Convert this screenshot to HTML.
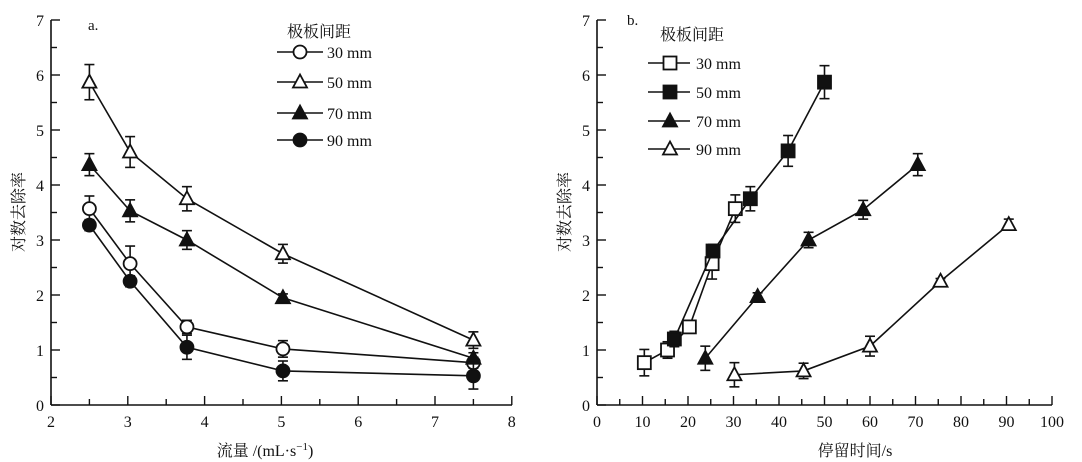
<!DOCTYPE html>
<html><head><meta charset="utf-8"><style>
html,body{margin:0;padding:0;background:#fff;}
svg{display:block;}
text{font-family:"Liberation Serif","Noto Serif CJK SC","Noto Sans CJK SC",serif;fill:#111;}
</style></head><body>
<svg id="s" width="1082" height="462" xmlns="http://www.w3.org/2000/svg">
<text x="88" y="30" font-size="15">a.</text>
<text x="627" y="25" font-size="15">b.</text>
<text x="287" y="37" font-size="16">极板间距</text>
<text x="660" y="40" font-size="16">极板间距</text>
<text x="265" y="456" font-size="16" text-anchor="middle">流量 /(mL·s<tspan dy="-6" font-size="11">−1</tspan><tspan dy="6">)</tspan></text>
<text x="855" y="456" font-size="16" text-anchor="middle">停留时间/s</text>
<text transform="translate(24,212) rotate(-90)" font-size="16" text-anchor="middle">对数去除率</text>
<text transform="translate(570,212) rotate(-90)" font-size="16" text-anchor="middle">对数去除率</text>
</svg>
<script>
var s=document.getElementById('s'),NS='http://www.w3.org/2000/svg';
function el(t,a,txt){var e=document.createElementNS(NS,t);for(var k in a)e.setAttribute(k,a[k]);if(txt!=null)e.textContent=txt;s.appendChild(e);return e;}
function Y(v){return 405-55*v;}
function marker(type,x,y){
 var f=(type=='oc'||type=='os'||type=='ot')?'#fff':'#111';
 if(type[1]=='c')el('circle',{cx:x,cy:y,r:6.5,fill:f,stroke:'#111','stroke-width':1.8});
 else if(type[1]=='s')el('rect',{x:x-6.5,y:y-6.5,width:13,height:13,fill:f,stroke:'#111','stroke-width':1.8});
 else el('polygon',{points:(x)+','+(y-7.5)+' '+(x-7)+','+(y+5.5)+' '+(x+7)+','+(y+5.5),fill:f,stroke:'#111','stroke-width':1.8});
}
function axes(x0,x1,ticks,minor,labels,lx){
 el('line',{x1:x0,y1:20,x2:x0,y2:405,stroke:'#111','stroke-width':1.6});
 el('line',{x1:x0,y1:405,x2:x1,y2:405,stroke:'#111','stroke-width':1.6});
 for(var v=0;v<=7;v+=0.5){var y=Y(v);el('line',{x1:x0,y1:y,x2:x0+(v%1?6:9),y2:y,stroke:'#111','stroke-width':1.4});
  if(v%1==0)el('text',{x:x0-7,y:y+6,'font-size':16,'text-anchor':'end'},String(v));}
 ticks.forEach(function(t,i){el('line',{x1:t[0],y1:405,x2:t[0],y2:405-(t[1]?9:6),stroke:'#111','stroke-width':1.4});
  if(t[1])el('text',{x:t[0],y:427,'font-size':16,'text-anchor':'middle'},t[2]);});
}
// left
var lt=[];for(var v=2;v<=8;v+=0.5){lt.push([51+(v-2)*76.8,v%1==0,String(v)]);}
axes(51,512,lt);
var LX=function(v){return 51+(v-2)*76.8;};
var xs=[2.5,3.03,3.77,5.02,7.5];
var L=[['oc',[3.57,2.57,1.42,1.02,0.77],[.23,.32,.12,.15,.1]],
['ot',[5.87,4.6,3.75,2.75,1.18],[.32,.28,.22,.17,.15]],
['ft',[4.37,3.53,3.0,1.95,0.85],[.2,.2,.17,.07,.1]],
['fc',[3.27,2.25,1.05,0.62,0.53],[.1,.1,.22,.18,.24]]];
function series(sx,sy,type,err){
 var p=sx.map(function(x,i){return x+','+Y(sy[i]);}).join(' ');
 el('polyline',{points:p,fill:'none',stroke:'#111','stroke-width':1.6});
 sx.forEach(function(x,i){var e=err[i],y1=Y(sy[i]+e),y2=Y(sy[i]-e);
  el('line',{x1:x,y1:y1,x2:x,y2:y2,stroke:'#111','stroke-width':1.6});
  el('line',{x1:x-5,y1:y1,x2:x+5,y2:y1,stroke:'#111','stroke-width':1.6});
  el('line',{x1:x-5,y1:y2,x2:x+5,y2:y2,stroke:'#111','stroke-width':1.6});
  marker(type,x,Y(sy[i]));});
}
L.forEach(function(d){series(xs.map(LX),d[1],d[0],d[2]);});
// right
var rt=[];for(var v=0;v<=100;v+=5){rt.push([597+v*4.55,v%10==0,String(v)]);}
axes(597,1052,rt);
var RX=function(v){return 597+v*4.55;};
var R=[['os',[10.4,15.5,20.3,25.3,30.4],[0.77,1.0,1.42,2.57,3.57],[.24,.15,.1,.28,.25]],
['fs',[17,25.5,33.7,42,50],[1.2,2.8,3.75,4.62,5.87],[.14,.12,.22,.28,.3]],
['ft',[23.8,35.3,46.5,58.5,70.5],[0.85,1.97,3.0,3.55,4.37],[.22,.07,.14,.17,.2]],
['ot',[30.2,45.4,60,75.5,90.5],[0.55,0.62,1.07,2.25,3.28],[.22,.14,.18,.05,.1]]];
R.forEach(function(d){series(d[1].map(RX),d[2],d[0],d[3]);});
// legends
var ll=['30 mm','50 mm','70 mm','90 mm'];
[52,82,113,140].forEach(function(y,i){el('line',{x1:277,y1:y,x2:323,y2:y,stroke:'#111','stroke-width':1.6});marker(L[i][0],300,y);
 el('text',{x:327,y:y+6,'font-size':16},ll[i]);});
[63,92,121,149].forEach(function(y,i){el('line',{x1:648,y1:y,x2:690,y2:y,stroke:'#111','stroke-width':1.6});marker(R[i][0],670,y);
 el('text',{x:696,y:y+6,'font-size':16},ll[i]);});
</script>
</body></html>
